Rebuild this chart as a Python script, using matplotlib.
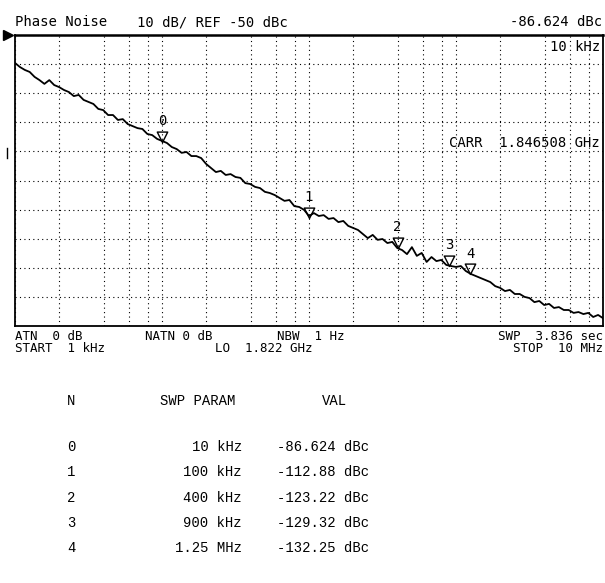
import numpy as np
import matplotlib
matplotlib.use("Agg")
import matplotlib.pyplot as plt
from matplotlib.path import Path
from matplotlib.lines import Line2D

# sweep settings (from the screen text)
start_hz = 1e3
stop_hz = 10e6
ref_dbc = -50
db_per_div = 10

# trace levels, dBc, evenly spaced in log frequency
trace_dbc = [
    -59.6, -61.0, -62.0, -62.7, -64.4, -65.5, -66.8, -65.5, -67.2, -67.9,
    -68.9, -69.6, -71.0, -70.6, -72.3, -73.0, -73.7, -75.4, -75.8, -77.5,
    -77.5, -79.2, -78.9, -80.6, -81.3, -82.0, -82.3, -84.0, -84.4, -85.7,
    -86.4, -87.1, -88.5, -89.2, -90.5, -90.2, -91.6, -91.6, -92.3, -94.3,
    -95.7, -97.1, -96.7, -98.1, -97.8, -98.8, -99.1, -100.9, -101.2, -102.2,
    -102.6, -103.9, -104.3, -105.0, -106.0, -107.0, -106.7, -108.8, -109.1, -110.1,
    -112.2, -111.2, -112.2, -111.9, -113.2, -112.9, -114.3, -113.9, -115.6, -116.3,
    -117.0, -118.4, -119.8, -118.7, -120.4, -120.1, -121.5, -121.1, -123.2, -123.9,
    -125.3, -122.9, -125.9, -124.9, -128.0, -126.3, -127.7, -127.3, -129.0, -129.4,
    -129.7, -129.4, -131.1, -132.1, -132.8, -133.5, -134.2, -134.9, -136.3, -136.9,
    -138.0, -137.6, -139.0, -139.0, -140.0, -140.4, -141.8, -141.4, -142.8, -142.4,
    -143.8, -143.5, -144.5, -144.5, -145.5, -145.2, -145.9, -145.5, -146.9, -146.2,
    -147.3,
]
trace_hz = np.geomspace(start_hz, stop_hz, len(trace_dbc))

# markers
marker_n = ["0", "1", "2", "3", "4"]
marker_hz = [10e3, 100e3, 400e3, 900e3, 1.25e6]
marker_dbc = [-86.624, -112.88, -123.22, -129.32, -132.25]
marker_param = ["10 kHz", "100 kHz", "400 kHz", "900 kHz", "1.25 MHz"]
marker_val = ["-86.624 dBc", "-112.88 dBc", "-123.22 dBc", "-129.32 dBc", "-132.25 dBc"]

grid_mult = [1, 2, 4, 6, 8]
decades = [1e3, 1e4, 1e5, 1e6]

W, H = 605, 583
fig = plt.figure(figsize=(W / 100, H / 100), dpi=100)
ax = fig.add_axes([15 / W, 1 - 326 / H, 588 / W, 291 / H])

ax.plot(trace_hz, trace_dbc, color="black", lw=1.3)

# marker triangles with the tip on the trace
tri = Path([(0, 0), (-0.5, 1), (0.5, 1), (0, 0)],
           [Path.MOVETO, Path.LINETO, Path.LINETO, Path.CLOSEPOLY])
ax.plot(marker_hz, marker_dbc, ls="none", marker=tri, ms=15, mfc="none",
        mec="black", mew=1.0)
for n, f, v in zip(marker_n, marker_hz, marker_dbc):
    ax.annotate(n, (f, v), xytext=(0, 15), textcoords="offset points",
                ha="center", va="center", fontsize=10, family="DejaVu Sans Mono")

ax.set_xscale("log")
ax.set_xlim(start_hz, stop_hz)
ax.set_ylim(ref_dbc - 10 * db_per_div, ref_dbc)
ax.set_xticks([m * d for d in decades for m in grid_mult] + [stop_hz])
ax.set_xticks([], minor=True)
ax.set_yticks(np.arange(ref_dbc - 10 * db_per_div, ref_dbc + 1, db_per_div))
ax.tick_params(length=0, labelbottom=False, labelleft=False, which="both")
ax.grid(True, color="black", ls=(0, (1, 3)), lw=0.8)
for s in ax.spines.values():
    s.set_linewidth(1.3)
ax.spines["top"].set_linewidth(1.8)

mono = "DejaVu Sans Mono"


def txt(x, y, s, ha="left", font=mono, size=10):
    fig.text(x / W, 1 - y / H, s, ha=ha, va="center", family=font, fontsize=size)


# screen annotations
txt(15, 22, "Phase Noise")
txt(137, 22, "10 dB/ REF -50 dBc")
txt(602, 22, "-86.624 dBc", ha="right")
txt(600, 47, "10 kHz", ha="right")
txt(600, 143, "CARR  1.846508 GHz", ha="right")
txt(15, 336, "ATN  0 dB", size=9)
txt(145, 336, "NATN 0 dB", size=9)
txt(277, 336, "NBW  1 Hz", size=9)
txt(603, 336, "SWP  3.836 sec", ha="right", size=9)
txt(15, 349, "START  1 kHz", size=9)
txt(215, 349, "LO  1.822 GHz", size=9)
txt(603, 349, "STOP  10 MHz", ha="right", size=9)

# reference level pointer and small tick on the left
fig.add_artist(Line2D([8 / W], [1 - 35 / H], marker=">", ms=7, color="black"))
fig.add_artist(Line2D([7 / W, 7 / W], [1 - 148 / H, 1 - 158 / H], color="black", lw=1))

# marker table
table_font = "Liberation Mono"
txt(67, 401, "N", font=table_font)
txt(160, 401, "SWP PARAM", font=table_font)
txt(322, 401, "VAL", font=table_font)
row_y = [447, 472, 498, 523, 548]
for y, n, p, v in zip(row_y, marker_n, marker_param, marker_val):
    txt(67, y, n, font=table_font)
    txt(242, y, p, ha="right", font=table_font)
    txt(277, y, v, font=table_font)

plt.savefig("out.png", dpi=100)
